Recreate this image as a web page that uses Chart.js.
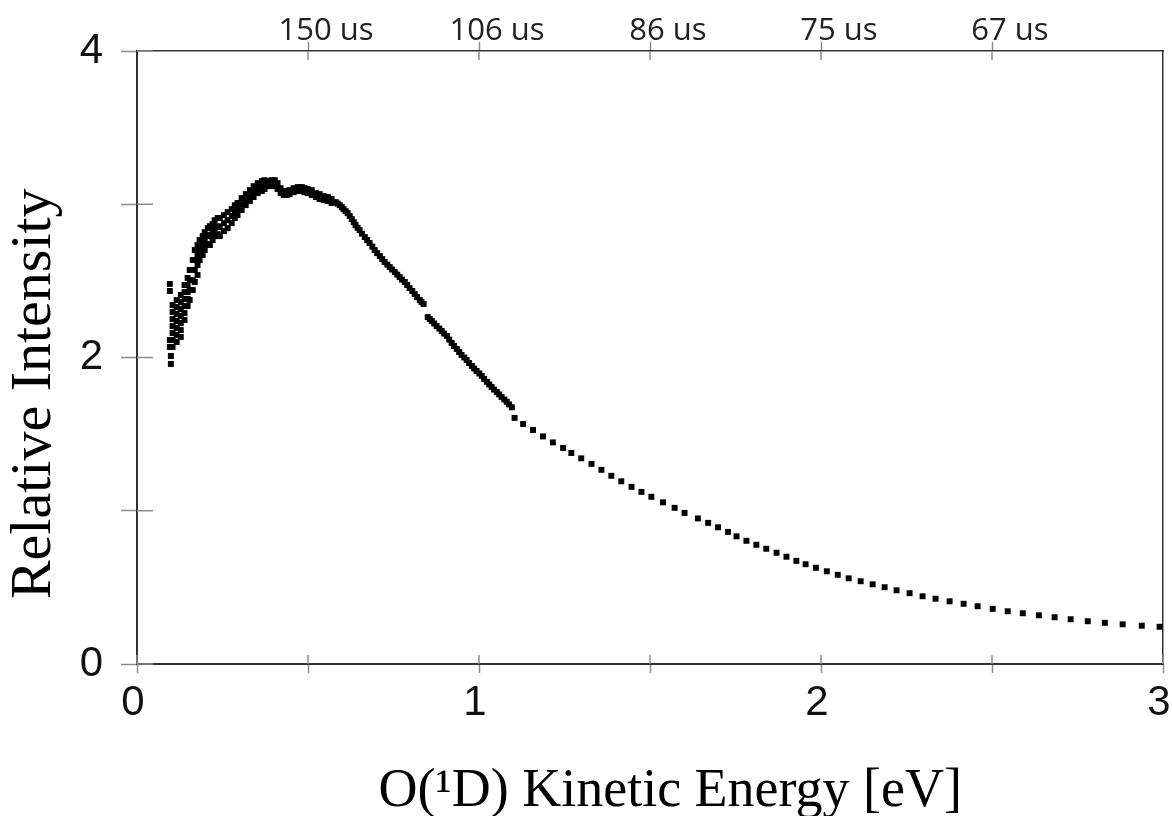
<!DOCTYPE html>
<html>
<head>
<meta charset="utf-8">
<script src="https://cdn.jsdelivr.net/npm/chart.js@4.4.1/dist/chart.umd.min.js"></script>
<style>
  html, body { margin: 0; padding: 0; background: #fff; }
  #wrap { width: 1172px; height: 816px; }
</style>
</head>
<body>
<div id="wrap"><canvas id="chart"></canvas></div>
<script>
// O(1D) kinetic energy distribution
const energyEv = [
  // noisy low-energy end
  0.096, 0.096, 0.096, 0.096,
  0.099, 0.099,
  0.104, 0.104, 0.104, 0.104, 0.104, 0.104, 0.104,
  0.116, 0.116, 0.116, 0.116, 0.116, 0.116, 0.116,
  0.128, 0.128, 0.128, 0.128, 0.128, 0.128, 0.128,
  0.139, 0.139, 0.139, 0.139, 0.139, 0.139,
  0.148, 0.148, 0.148, 0.148, 0.148,
  0.154, 0.154, 0.154, 0.154,
  0.163, 0.163, 0.163, 0.163,
  0.169, 0.169, 0.169, 0.169,
  0.177, 0.177, 0.177, 0.177,
  0.183, 0.183, 0.183,
  0.192, 0.192, 0.192,
  0.198, 0.198, 0.198,
  0.207, 0.207, 0.207, 0.213, 0.213, 0.213,
  0.221, 0.221, 0.221, 0.227, 0.227, 0.227,
  0.236, 0.236, 0.236, 0.242, 0.242, 0.242,
  0.254, 0.254, 0.254, 0.265, 0.265, 0.265,
  0.277, 0.277, 0.277, 0.286, 0.286, 0.286,
  0.294, 0.294, 0.294, 0.306, 0.306, 0.306,
  0.318, 0.318, 0.318, 0.330, 0.330, 0.330,
  0.341, 0.341, 0.341, 0.353, 0.353, 0.353,
  0.365, 0.365, 0.365, 0.373, 0.373, 0.373,
  0.382, 0.382, 0.394, 0.394, 0.403, 0.403, 0.411, 0.411,
  0.420, 0.420, 0.429, 0.429, 0.438, 0.438, 0.446, 0.446,
  0.458, 0.458, 0.470, 0.470, 0.482, 0.482, 0.490, 0.490,
  0.499, 0.499, 0.511, 0.511, 0.523, 0.523, 0.534, 0.534,
  0.546, 0.546, 0.558, 0.558, 0.569, 0.569,
  // falling edge
  0.581, 0.593, 0.604, 0.616, 0.628, 0.639, 0.651, 0.666,
  0.680, 0.695, 0.710, 0.724, 0.739, 0.754, 0.768, 0.783,
  0.797, 0.812, 0.827, 0.838,
  0.850, 0.862, 0.876, 0.891, 0.906, 0.920, 0.935, 0.949,
  0.964, 0.979, 0.993, 1.008, 1.023, 1.037, 1.052, 1.066,
  1.081, 1.096,
  // falling edge, samples in between the ones above
  0.587, 0.599, 0.610, 0.622, 0.634, 0.645, 0.658, 0.673,
  0.688, 0.702, 0.717, 0.732, 0.746, 0.761, 0.775, 0.790,
  0.805, 0.819, 0.832,
  0.856, 0.869, 0.884, 0.898, 0.913, 0.927, 0.942, 0.957,
  0.971, 0.986, 1.001, 1.015, 1.030, 1.044, 1.059, 1.074,
  1.088,
  // tail
  1.104, 1.129, 1.158, 1.187, 1.216, 1.246, 1.270, 1.299,
  1.329, 1.358, 1.387, 1.416, 1.446, 1.475, 1.504, 1.538,
  1.572, 1.601, 1.640, 1.670, 1.699, 1.728, 1.753, 1.782,
  1.811, 1.840, 1.870, 1.899, 1.928, 1.955, 1.985, 2.017,
  2.049, 2.081, 2.116, 2.151, 2.186, 2.221, 2.259, 2.297,
  2.335, 2.376, 2.417, 2.458, 2.502, 2.546, 2.590, 2.637,
  2.683, 2.730, 2.780, 2.830, 2.882, 2.938, 2.990
];

const relIntensity = [
  2.480, 2.434, 2.114, 2.069,
  2.010, 1.958,
  2.342, 2.297, 2.251, 2.205, 2.160, 2.114, 2.069,
  2.375, 2.329, 2.284, 2.238, 2.193, 2.147, 2.101,
  2.408, 2.362, 2.316, 2.271, 2.225, 2.179, 2.134,
  2.473, 2.427, 2.382, 2.336, 2.290, 2.245,
  2.519, 2.473, 2.427, 2.382, 2.336,
  2.571, 2.505, 2.440, 2.375,
  2.636, 2.571, 2.505, 2.440,
  2.701, 2.636, 2.571, 2.493,
  2.734, 2.668, 2.603, 2.538,
  2.766, 2.701, 2.636,
  2.792, 2.734, 2.668,
  2.818, 2.766, 2.701,
  2.844, 2.792, 2.740, 2.857, 2.799, 2.734,
  2.870, 2.818, 2.766, 2.896, 2.844, 2.792,
  2.910, 2.857, 2.805, 2.910, 2.851, 2.792,
  2.929, 2.877, 2.825, 2.949, 2.896, 2.844,
  2.968, 2.923, 2.877, 2.994, 2.949, 2.910,
  3.008, 2.968, 2.929, 3.040, 3.001, 2.962,
  3.066, 3.027, 2.994, 3.092, 3.053, 3.021,
  3.118, 3.079, 3.047, 3.138, 3.105, 3.073,
  3.151, 3.118, 3.086, 3.157, 3.125, 3.099,
  3.151, 3.118, 3.157, 3.118, 3.157, 3.118, 3.138, 3.099,
  3.105, 3.073, 3.086, 3.060, 3.086, 3.060, 3.092, 3.066,
  3.105, 3.079, 3.112, 3.086, 3.112, 3.086, 3.105, 3.079,
  3.099, 3.073, 3.092, 3.060, 3.073, 3.047, 3.066, 3.034,
  3.053, 3.027, 3.047, 3.021, 3.034, 3.008,
  3.014, 2.994, 2.968, 2.942, 2.903, 2.864, 2.831, 2.786,
  2.747, 2.701, 2.662, 2.623, 2.590, 2.557, 2.525, 2.493,
  2.453, 2.414, 2.375, 2.349,
  2.264, 2.238, 2.205, 2.173, 2.140, 2.095, 2.056, 2.017,
  1.984, 1.945, 1.912, 1.880, 1.841, 1.808, 1.776, 1.743,
  1.711, 1.675,
  3.004, 2.981, 2.955, 2.923, 2.883, 2.847, 2.808, 2.766,
  2.724, 2.681, 2.642, 2.606, 2.574, 2.541, 2.508, 2.473,
  2.434, 2.394, 2.362,
  2.251, 2.222, 2.189, 2.156, 2.117, 2.075, 2.036, 2.000,
  1.964, 1.928, 1.896, 1.860, 1.824, 1.791, 1.759, 1.726,
  1.694,
  1.606, 1.566, 1.527, 1.485, 1.446, 1.410, 1.377, 1.342,
  1.306, 1.267, 1.228, 1.192, 1.156, 1.123, 1.091, 1.055,
  1.019, 0.986, 0.950, 0.921, 0.892, 0.862, 0.833, 0.804,
  0.778, 0.752, 0.726, 0.700, 0.673, 0.651, 0.628, 0.605,
  0.582, 0.559, 0.540, 0.520, 0.501, 0.481, 0.462, 0.442,
  0.426, 0.409, 0.393, 0.377, 0.360, 0.344, 0.331, 0.318,
  0.305, 0.292, 0.279, 0.269, 0.259, 0.250, 0.243
];

// secondary (top) axis: flight time at given energies
const flightEnergy = [0.5, 1, 1.5, 2, 2.5];
const flightLabel = ['150 us', '106 us', '86 us', '75 us', '67 us'];

const axisColor = '#333';
const tickColor = '#8c8c8c';

const points = energyEv.map((e, i) => ({ x: e, y: relIntensity[i] }));

// Chart.js ticks only point outward; draw the inner half so ticks cross the axes
const innerTicks = {
  id: 'innerTicks',
  beforeDatasetsDraw(chart) {
    const ctx = chart.ctx;
    ctx.save();
    ctx.strokeStyle = tickColor;
    ctx.lineWidth = 1.5;
    ['x', 'x2', 'y'].forEach(id => {
      const s = chart.scales[id];
      s.ticks.forEach(t => {
        const p = s.getPixelForValue(t.value);
        ctx.beginPath();
        if (id === 'y') { ctx.moveTo(s.right, p); ctx.lineTo(s.right + 16, p); }
        else if (id === 'x') { ctx.moveTo(p, s.top); ctx.lineTo(p, s.top - 9); }
        else { ctx.moveTo(p, s.bottom); ctx.lineTo(p, s.bottom + 9); }
        ctx.stroke();
      });
    });
    ctx.restore();
  }
};

new Chart(document.getElementById('chart'), {
  type: 'scatter',
  data: {
    datasets: [{
      data: points,
      pointStyle: 'rect',
      pointRadius: 4.2,
      pointBackgroundColor: '#000',
      pointBorderWidth: 0,
      showLine: false
    }]
  },
  options: {
    responsive: true,
    maintainAspectRatio: false,
    animation: false,
    plugins: { legend: { display: false }, tooltip: { enabled: false } },
    scales: {
      x: {
        type: 'linear', position: 'bottom', min: 0, max: 3,
        afterFit: s => { s.height = 152; s.paddingLeft = 0; s.paddingRight = 0; },
        ticks: {
          stepSize: 0.5, autoSkip: false, maxRotation: 0, padding: 9, labelOffset: -4, color: '#111',
          font: { family: 'Liberation Sans', size: 42, lineHeight: 1 },
          callback: v => Number.isInteger(v) ? v : ''
        },
        grid: { drawOnChartArea: false, tickLength: 9, tickColor: tickColor, tickWidth: 1.5 },
        border: { color: axisColor, width: 2 },
        title: {
          display: true, text: '   O(\u00B9D) Kinetic Energy [eV]', color: '#000',
          font: { family: 'Liberation Serif', size: 54, lineHeight: 1 },
          padding: { top: 0, bottom: -3 }
        }
      },
      x2: {
        type: 'linear', position: 'top', min: 0, max: 3,
        afterFit: s => { s.height = 51; s.paddingLeft = 0; s.paddingRight = 0; },
        afterBuildTicks: s => { s.ticks = flightEnergy.map(v => ({ value: v })); },
        ticks: {
          autoSkip: false, maxRotation: 0, padding: -5, labelOffset: 18, color: '#222',
          font: { family: 'Open Sans', size: 31, lineHeight: 1 },
          callback: (v, i) => flightLabel[i]
        },
        grid: { drawOnChartArea: false, tickLength: 9, tickColor: tickColor, tickWidth: 1.5 },
        border: { color: axisColor, width: 1.5 }
      },
      y: {
        min: 0, max: 4,
        afterFit: s => { s.width = 137; },
        ticks: {
          stepSize: 1, padding: 18, color: '#111',
          font: { family: 'Liberation Sans', size: 42 },
          callback: v => v % 2 === 0 ? v : ''
        },
        grid: { drawOnChartArea: false, tickLength: 16, tickColor: tickColor, tickWidth: 1.5 },
        border: { color: axisColor, width: 2 },
        title: {
          display: true, text: 'Relative Intensity     ', color: '#000',
          font: { family: 'Liberation Serif', size: 58, lineHeight: 1 },
          padding: { top: 6, bottom: 0 }
        }
      },
      y2: {
        position: 'right', min: 0, max: 4,
        afterFit: s => { s.width = 9; },
        ticks: { display: false },
        grid: { display: false },
        border: { color: axisColor, width: 1.5 }
      }
    }
  },
  plugins: [innerTicks]
});
</script>
</body>
</html>
